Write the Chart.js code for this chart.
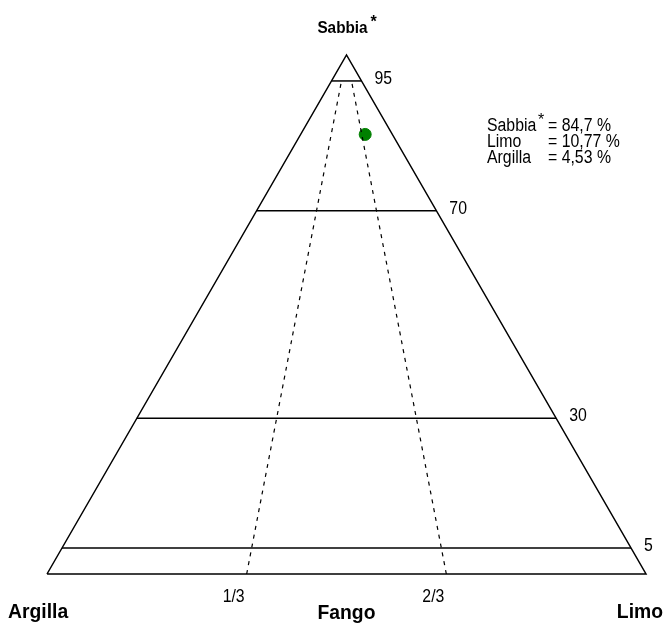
<!DOCTYPE html>
<html lang="it">
<head>
    <meta charset="UTF-8">
    <title>Diagramma ternario Sabbia - Limo - Argilla</title>
    <script src="https://cdn.jsdelivr.net/npm/chart.js"></script>
    <style>
        body { margin: 0; background: #fff; }
        #wrap { width: 670px; height: 624px; }
    </style>
</head>
<body>
<div id="wrap"><canvas id="myChart"></canvas></div>

<script>
    // vertici del triangolo (Argilla, Limo, Sabbia)
    const cornerNames = ['Argilla', 'Limo', 'Sabbia'];
    // linee orizzontali di sabbia (%)
    const sandLevels = [95, 70, 30, 5];
    const sandLabels = ['95', '70', '30', '5'];
    // divisione limo/argilla (linee tratteggiate)
    const siltFractions = [1 / 3, 2 / 3];
    const siltLabels = ['1/3', '2/3'];
    const middleName = 'Fango';
    // campione
    const sample = { sabbia: 84.7, limo: 10.77, argilla: 4.53 };
    const sampleNames = ['Sabbia', 'Limo', 'Argilla'];
    const sampleText = ['84,7', '10,77', '4,53'];

    // coordinate ternarie -> x,y del grafico (0..100)
    function tern(sabbia, limo) {
        return { x: limo + sabbia / 2, y: sabbia };
    }

    const outline = [tern(0, 0), tern(0, 100), tern(100, 0), tern(0, 0)];

    const datasets = [];
    datasets.push({
        data: outline, showLine: true, borderColor: '#000', borderWidth: 1.5,
        pointRadius: 0, fill: false, tension: 0
    });
    sandLevels.forEach(function (s) {
        datasets.push({
            data: [tern(s, 0), tern(s, 100 - s)], showLine: true, borderColor: '#000',
            borderWidth: 1.5, pointRadius: 0
        });
    });
    siltFractions.forEach(function (f) {
        // dalla base fino alla linea del 95
        const top = sandLevels[0];
        datasets.push({
            data: [tern(0, f * 100), tern(top, f * (100 - top))], showLine: true,
            borderColor: '#000', borderWidth: 1.2, borderDash: [4, 5], pointRadius: 0
        });
    });
    datasets.push({
        data: [tern(sample.sabbia, sample.limo)], showLine: false,
        pointRadius: 6, pointBackgroundColor: '#008000', pointBorderColor: '#008000', pointBorderWidth: 1
    });

    // testo compresso in orizzontale (carattere "narrow")
    function txt(c, s, x, y, align, sx) {
        c.save();
        c.translate(x, y);
        c.scale(sx, 1);
        c.textAlign = align;
        c.fillText(s, 0, 0);
        c.restore();
    }

    const labelPlugin = {
        id: 'ternLabels',
        afterDraw: function (chart) {
            const c = chart.ctx;
            const xs = chart.scales.x, ys = chart.scales.y;
            const px = function (p) { return xs.getPixelForValue(p.x); };
            const py = function (p) { return ys.getPixelForValue(p.y); };
            const fam = '"Liberation Sans", Arial, sans-serif';
            c.save();
            c.fillStyle = '#000';
            c.textBaseline = 'middle';

            // titolo (vertice sabbia)
            const apex = tern(100, 0);
            c.font = 'bold 17px ' + fam;
            txt(c, cornerNames[2], px(apex) - 4, py(apex) - 27, 'center', 0.9);
            c.font = 'bold 16px ' + fam;
            txt(c, '*', px(apex) + 27, py(apex) - 32, 'center', 1);

            // vertici alla base
            const left = tern(0, 0), right = tern(0, 100);
            c.font = 'bold 21px ' + fam;
            txt(c, cornerNames[0], 8, py(left) + 38, 'left', 0.92);
            txt(c, cornerNames[1], 663, py(right) + 38, 'right', 0.92);
            txt(c, middleName, (px(left) + px(right)) / 2, py(left) + 39, 'center', 0.92);

            // etichette livelli sabbia
            c.font = '18px ' + fam;
            sandLevels.forEach(function (s, i) {
                const p = tern(s, 100 - s);
                txt(c, sandLabels[i], px(p) + 13, py(p) - 2, 'left', 0.88);
            });
            // 1/3, 2/3
            siltFractions.forEach(function (f, i) {
                const p = tern(0, f * 100);
                txt(c, siltLabels[i], px(p) - 13, py(p) + 23, 'center', 0.88);
            });

            // legenda campione
            const lx = 487, ly = 126, lh = 16, ex = 548;
            sampleNames.forEach(function (n, i) {
                txt(c, n, lx, ly + i * lh, 'left', 0.88);
                txt(c, '= ' + sampleText[i] + ' %', ex, ly + i * lh, 'left', 0.88);
            });
            c.font = '16px ' + fam;
            txt(c, '*', 541, ly - 5, 'center', 1);
            c.restore();
        }
    };

    new Chart(document.getElementById('myChart'), {
        type: 'scatter',
        data: { datasets: datasets },
        options: {
            responsive: true,
            maintainAspectRatio: false,
            animation: false,
            clip: false,
            layout: { padding: { left: 47, right: 24, top: 55, bottom: 50 } },
            plugins: { legend: { display: false }, tooltip: { enabled: false }, title: { display: false } },
            scales: {
                x: { type: 'linear', min: 0, max: 100, display: false },
                y: { type: 'linear', min: 0, max: 100, display: false }
            }
        },
        plugins: [labelPlugin]
    });
</script>
</body>
</html>
